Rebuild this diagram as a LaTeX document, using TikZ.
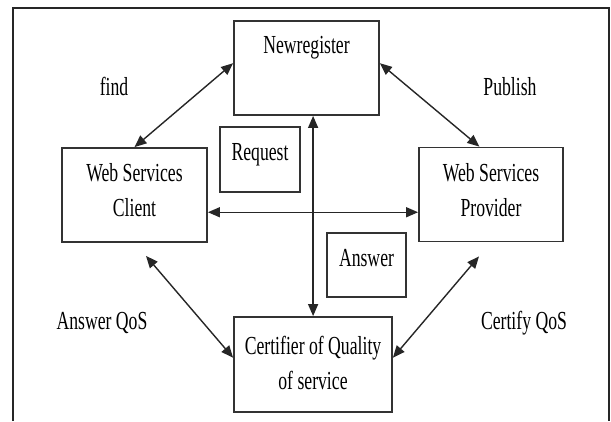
\documentclass[tikz,border=0pt]{standalone}
\usepackage{fontspec}
\newfontfamily\bmfont[FakeStretch=0.68]{Liberation Serif}
\usetikzlibrary{arrows.meta,calc}
\begin{document}
\begin{tikzpicture}[x=1pt,y=-1pt,
  box/.style={draw=black!80,line width=1.8pt,inner sep=0pt},
  txt/.style={font=\bmfont\fontsize{26}{35}\selectfont,align=center,inner sep=0pt,text=black},
  conn/.style={draw=black!85,line width=1.4pt,{Triangle[length=12pt,width=10pt]}-{Triangle[length=12pt,width=10pt]}}]
\useasboundingbox (0,0) rectangle (611,421);
% outer frame (open at bottom)
\draw[line width=2pt,black!85] (13,421) -- (13,8) -- (609,8) -- (609,421);
% boxes
\node[box,minimum width=145,minimum height=94] (nr) at (306.5,68) {};
\node[box,minimum width=80,minimum height=65] (rq) at (260,159.5) {};
\node[box,minimum width=145,minimum height=94] (cl) at (134.5,195) {};
\node[box,minimum width=144,minimum height=94] (pv) at (491,194.5) {};
\node[box,minimum width=79,minimum height=64] (ans) at (366.5,265) {};
\node[box,minimum width=158,minimum height=95] (cert) at (313,364.5) {};
% box texts
\node[txt,anchor=base] (tnr) at (306.5,53) {Newregister};
\node[txt,anchor=base] (trq) at (260,160) {Request};
\node[txt] (tcl) at (134.5,190.5) {Web Services\\Client};
\node[txt] (tpv) at (491,190.5) {Web Services\\Provider};
\node[txt,anchor=base] (tans) at (366.5,266) {Answer};
\node[txt] (tcert) at (313,362.5) {Certifier of Quality\\of service};
% labels
\node[txt,anchor=base] (lfind) at (114,95) {find};
\node[txt,anchor=base] (lpub) at (510,95) {Publish};
\node[txt,anchor=base] (laq) at (102,329) {Answer QoS};
\node[txt,anchor=base] (lcq) at (524,329) {Certify QoS};
% connector end points
\coordinate (nrL) at ($(nr.north west)!0.45!(nr.south west)$);
\coordinate (nrR) at ($(nr.north east)!0.45!(nr.south east)$);
\coordinate (nrB) at ($(nr.south west)!0.545!(nr.south east)$);
\coordinate (pvT) at ($(pv.north west)!0.42!(pv.north east)$);
\coordinate (clR) at ($(cl.north east)!0.68!(cl.south east)$);
\coordinate (pvL) at ($(pv.north west)!0.69!(pv.south west)$);
\coordinate (clB) at ($(cl.south)+(11.5,13)$);
\coordinate (pvB) at ($(pv.south)+(-12,14)$);
\coordinate (certL) at ($(cert.north west)!0.43!(cert.south west)$);
\coordinate (certR) at ($(cert.north east)!0.43!(cert.south east)$);
% connectors
\draw[conn] (nrL) -- (cl.north);
\draw[conn] (nrR) -- (pvT);
\draw[conn] (clR) -- (clR -| pvL);
\draw[conn] (nrB) -- (nrB |- cert.north);
\draw[conn] (clB) -- (certL);
\draw[conn] (pvB) -- (certR);
\end{tikzpicture}
\end{document}
